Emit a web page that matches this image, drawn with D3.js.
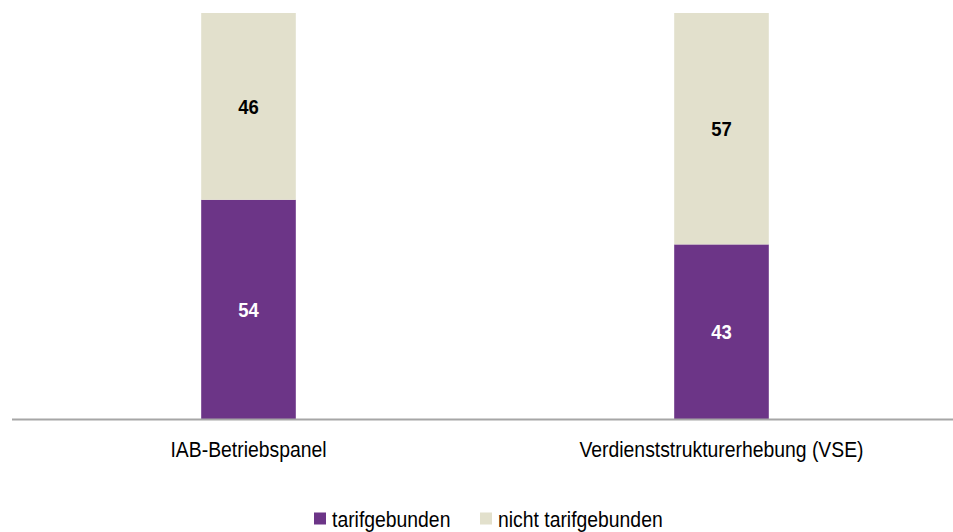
<!DOCTYPE html>
<html>
<head>
<meta charset="utf-8">
<script src="https://cdn.jsdelivr.net/npm/d3@7"></script>
<style>
  html, body { margin: 0; padding: 0; background: #fff; }
  svg { display: block; }
  text { font-family: "Liberation Sans", Arial, sans-serif; }
</style>
</head>
<body>
<svg id="chart" width="953" height="532"></svg>
<script>
const categories = ["IAB-Betriebspanel", "Verdienststrukturerhebung (VSE)"];
const seriesNames = ["tarifgebunden", "nicht tarifgebunden"];
const tarifgebunden = [54, 43];
const nichtTarifgebunden = [46, 57];
const colors = ["#6c3587", "#e2e0cc"];
const labelColors = ["#ffffff", "#000000"];

const svg = d3.select("#chart");
const plotTop = 13, plotBase = 419;
const narrow = "scale(0.88,1)";

const x = d3.scaleBand().domain(categories).range([12, 958])
  .paddingInner(0.8).paddingOuter(0.4);
const y = d3.scaleLinear().domain([0, 100]).range([plotBase, plotTop]);

const rows = categories.map((c, i) => ({cat: c, tarifgebunden: tarifgebunden[i], nicht: nichtTarifgebunden[i]}));
const stack = d3.stack().keys(["tarifgebunden", "nicht"]);
const layers = stack(rows);

const g = svg.append("g");
layers.forEach((layer, li) => {
  g.selectAll(null).data(layer).enter().append("rect")
    .attr("x", d => x(d.data.cat))
    .attr("width", x.bandwidth())
    .attr("y", d => y(d[1]))
    .attr("height", d => y(d[0]) - y(d[1]))
    .attr("fill", colors[li]);
  g.selectAll(null).data(layer).enter().append("g")
    .attr("transform", d => `translate(${x(d.data.cat) + x.bandwidth() / 2},${(y(d[0]) + y(d[1])) / 2 + 7.5}) ${narrow}`)
    .append("text")
    .attr("text-anchor", "middle")
    .attr("font-size", 21)
    .attr("font-weight", "bold")
    .attr("fill", labelColors[li])
    .text(d => d[1] - d[0]);
});

// axis baseline
const xAxis = d3.axisBottom(x).tickSize(0).tickPadding(0);
const ax = svg.append("g").attr("transform", `translate(0,${plotBase})`).call(xAxis);
ax.select(".domain").attr("stroke", "#a6a6a6").attr("stroke-width", 2)
  .attr("d", `M12,0.5H953`);
ax.selectAll(".tick text")
  .attr("font-size", 22)
  .attr("fill", "#000")
  .attr("dy", null)
  .attr("y", 38)
  .attr("transform", narrow)
  .style("font-family", '"Liberation Sans", Arial, sans-serif');

// legend
const leg = svg.append("g");
const legY = 526.5;
const items = seriesNames.map((n, i) => ({name: n, color: colors[i]}));
const positions = [314, 480];
items.forEach((it, i) => {
  const gx = positions[i];
  leg.append("rect").attr("x", gx).attr("y", legY - 14).attr("width", 12).attr("height", 12).attr("fill", it.color);
  leg.append("g").attr("transform", `translate(${gx + 18},${legY}) ${narrow}`)
    .append("text").attr("font-size", 22).attr("fill", "#000").text(it.name);
});
</script>
</body>
</html>
